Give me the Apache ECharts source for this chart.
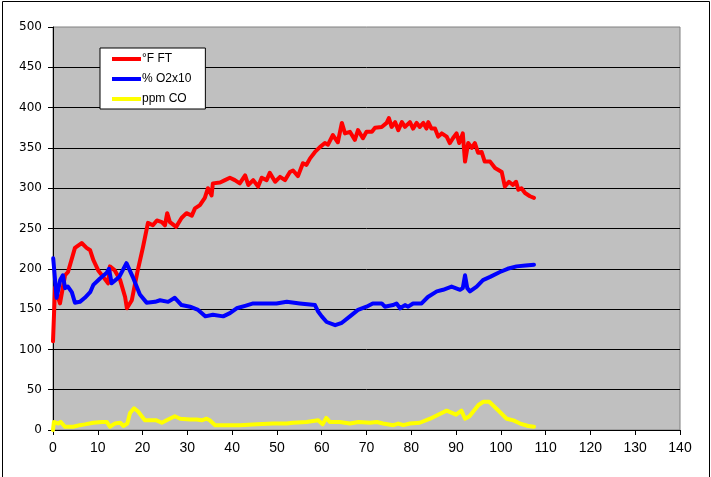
<!DOCTYPE html>
<html>
<head>
<meta charset="utf-8">
<script src="https://cdn.jsdelivr.net/npm/echarts@6/dist/echarts.min.js"></script>
<style>
html,body{margin:0;padding:0;background:#fff;}
#c{width:711px;height:477px;}
</style>
</head>
<body>
<div id="c"></div>
<script>
const seriesNames = ['°F FT', '% O2x10', 'ppm CO'];
const xTicks = {min: 0, max: 140, interval: 10};
const yTicks = {min: 0, max: 500, interval: 50};

const ftData = [[0,110],[0.45,177],[1.56,157],[2.7,192],[3.35,196],[4.9,226],[6.4,232],[7.5,226],[8.3,223],[9.0,211],[10.1,198],[11.2,190],[12.3,182],[12.7,203],[13.8,198],[15.0,186],[16.1,165],[16.5,151],[17.6,161],[18.8,195],[20.1,227],[21.2,257],[22.3,254],[23.2,260],[24.3,258],[25.0,254],[25.5,269],[26.1,258],[27.5,252],[28.7,263],[29.8,269],[31.0,266],[31.7,275],[32.8,279],[33.9,288],[34.6,300],[35.4,291],[35.7,306],[37.3,307],[38.4,310],[39.5,313],[40.6,310],[41.7,306],[42.9,316],[43.6,304],[44.7,310],[45.8,302],[46.6,313],[47.7,310],[48.4,319],[49.6,308],[50.7,314],[51.8,310],[52.9,320],[53.6,322],[54.7,315],[55.8,331],[56.6,329],[57.4,337],[58.5,345],[59.6,351],[60.7,356],[61.4,354],[62.5,366],[63.6,357],[64.5,381],[65.2,368],[66.3,370],[67.4,360],[68.1,372],[69.2,362],[70.0,370],[71.2,370],[71.9,375],[73.4,376],[74.5,381],[75.0,387],[75.6,376],[76.4,382],[77.1,372],[77.9,382],[78.6,376],[79.7,382],[80.4,374],[81.2,381],[81.9,376],[82.7,381],[83.4,374],[83.8,382],[84.5,374],[85.3,374],[86.0,364],[86.8,368],[87.9,364],[88.6,356],[89.3,362],[90.1,368],[90.7,356],[91.5,368],[92.0,333],[92.7,356],[93.5,350],[94.2,356],[94.9,344],[95.7,345],[96.4,333],[97.6,333],[98.7,325],[100.2,320],[100.9,302],[101.8,308],[102.7,304],[103.4,308],[103.9,298],[104.6,300],[105.4,294],[106.5,290],[107.4,288]];

const o2Data = [[0.05,213],[0.8,164],[1.6,186],[2.2,192],[2.7,176],[3.3,178],[4.2,171],[4.9,158],[6,159],[7.1,164],[8.3,171],[9,180],[10.5,188],[12,195],[12.5,200],[13.1,182],[14.8,190],[16.4,207],[17.8,190],[19.4,168],[20.9,158],[22.8,159],[23.9,161],[25.7,159],[27.2,164],[28.7,155],[30.6,153],[32.4,149],[34.0,141],[35.7,143],[38,141],[39.5,145],[41,151],[42.9,154],[44.7,157],[47.7,157],[49.9,157],[52.2,159],[55.1,157],[58.5,155],[58.9,157],[59.2,147],[60,141],[61.1,134],[63,130],[64.5,133],[66.3,141],[68.1,149],[70,153],[71.4,157],[73.4,157],[74.1,153],[75.9,155],[76.7,157],[77.5,151],[78.6,155],[79.3,153],[80.4,157],[82.3,157],[83.7,165],[85.7,172],[87.1,174],[89,178],[90.9,174],[91.5,176],[92,192],[92.5,176],[93.1,172],[94.6,178],[96,186],[97.6,190],[99.8,196],[101.5,200],[103.5,203],[105.5,204],[107.4,205]];

const coData = [[0,0],[0.2,10],[0.45,12],[1.2,8],[1.7,10],[2.7,4],[4.5,4],[6,6],[7.1,7],[9,9],[10.9,10],[12,10],[12.7,4],[13.8,8],[15,9],[15.7,5],[16.6,8],[17.2,21],[18.1,27],[19,23],[20.5,12],[23.1,12],[24.3,9],[25.7,13],[27.2,17],[28.4,14],[30.6,13],[32.1,13],[33.2,12],[34.3,14],[35,12],[36.2,6],[41.8,6],[45.5,7],[49.2,8],[52.2,8],[53.6,9],[56.6,10],[59.2,12],[60.2,7],[61,15],[61.8,10],[64,10],[66.3,8],[68.2,10],[70.8,9],[72.3,10],[73.7,8],[76,6],[77.1,8],[78.2,6],[79.7,8],[81.9,9],[84.2,14],[86,19],[87.9,24],[90,19],[91.2,24],[92,14],[93,17],[95,31],[96.1,35],[97.4,35],[99.1,26],[101.3,14],[102.8,12],[104.3,8],[106.1,5],[107.4,4]];

const seriesColors = ['#FF0000', '#0000FF', '#FFFF00'];
const allData = [ftData, o2Data, coData];

const chart = echarts.init(document.getElementById('c'), null, {renderer: 'canvas'});
chart.setOption({
  animation: false,
  backgroundColor: '#ffffff',
  graphic: [{
    type: 'rect', silent: true, z: 100,
    shape: {x: 2.5, y: 1.5, width: 707, height: 490},
    style: {fill: 'none', stroke: '#000', lineWidth: 1}
  }],
  grid: {
    left: 53, right: 31, top: 27, bottom: 47,
    show: true, backgroundColor: '#C0C0C0', borderColor: '#808080', borderWidth: 1
  },
  legend: {
    orient: 'vertical',
    left: 100, top: 48,
    padding: [5, 14, 4, 12],
    itemGap: 8,
    itemWidth: 29, itemHeight: 4,
    icon: 'rect',
    backgroundColor: '#ffffff',
    borderColor: '#000000', borderWidth: 1, borderRadius: 0,
    textStyle: {fontFamily: 'Liberation Sans', fontSize: 12, color: '#000', padding: [0, 0, 0, -4]},
    data: seriesNames
  },
  xAxis: {
    type: 'value', min: xTicks.min, max: xTicks.max, interval: xTicks.interval,
    axisLine: {show: true, onZero: false, lineStyle: {color: '#000', width: 1}},
    axisTick: {show: true, length: 5, lineStyle: {color: '#000'}},
    axisLabel: {fontFamily: 'Liberation Sans', fontSize: 14, color: '#000', margin: 11},
    splitLine: {show: false}
  },
  yAxis: {
    type: 'value', min: yTicks.min, max: yTicks.max, interval: yTicks.interval,
    axisLine: {show: true, lineStyle: {color: '#000', width: 1}},
    axisTick: {show: true, length: 5, lineStyle: {color: '#000'}},
    axisLabel: {fontFamily: 'DejaVu Sans', fontSize: 12, color: '#000', margin: 11},
    splitLine: {show: true, showMaxLine: false, lineStyle: {color: '#000', width: 1}}
  },
  series: seriesNames.map((n, i) => ({
    name: n, type: 'line', data: allData[i],
    showSymbol: false, symbol: 'none',
    color: seriesColors[i],
    lineStyle: {color: seriesColors[i], width: 4, join: 'round', cap: 'round'},
    clip: true
  }))
});
</script>
</body>
</html>
